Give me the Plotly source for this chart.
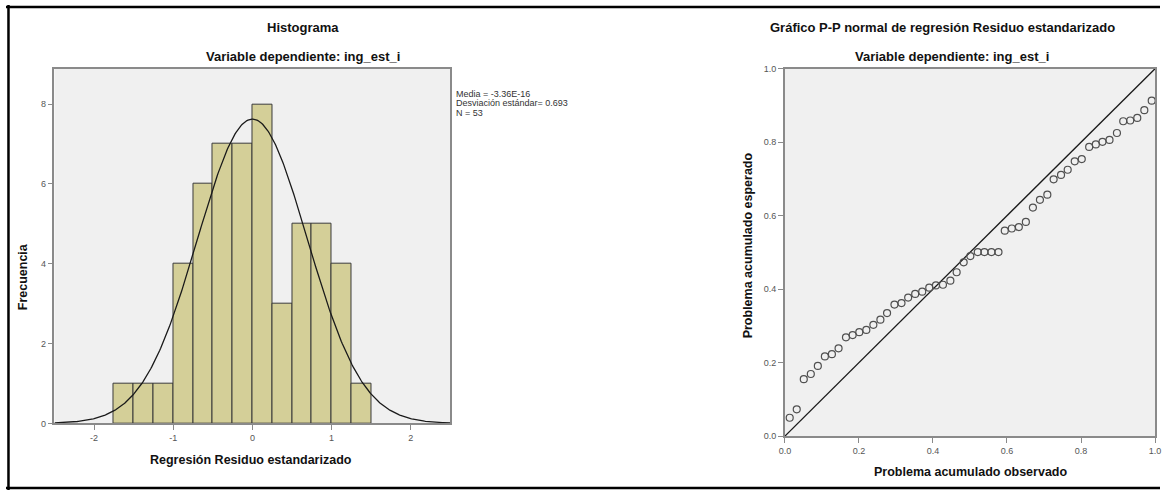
import numpy as np
import plotly.graph_objects as go

W, H = 1166, 495

# ---------------- data ----------------
bin_edges = [-1.75, -1.5, -1.25, -1.0, -0.75, -0.5, -0.25, 0.0, 0.25, 0.5, 0.75, 1.0, 1.25, 1.5]
counts = [1, 1, 1, 4, 6, 7, 7, 8, 3, 5, 5, 4, 1]
stat_mean = -3.36e-16
stat_sd = 0.693
stat_n = 53

pp_observed = [0.013, 0.032, 0.051, 0.070, 0.089, 0.108, 0.127, 0.145, 0.165, 0.183,
               0.201, 0.220, 0.239, 0.258, 0.276, 0.296, 0.315, 0.333, 0.352, 0.371,
               0.390, 0.408, 0.427, 0.447, 0.464, 0.483, 0.501, 0.521, 0.539, 0.558,
               0.577, 0.594, 0.613, 0.632, 0.651, 0.670, 0.689, 0.709, 0.726, 0.746,
               0.764, 0.783, 0.802, 0.822, 0.840, 0.858, 0.877, 0.897, 0.914, 0.933,
               0.952, 0.971, 0.991]
pp_expected = [0.050, 0.073, 0.155, 0.169, 0.191, 0.217, 0.223, 0.239, 0.269, 0.275,
               0.283, 0.289, 0.303, 0.317, 0.335, 0.358, 0.362, 0.377, 0.387, 0.393,
               0.404, 0.410, 0.412, 0.423, 0.446, 0.473, 0.490, 0.501, 0.501, 0.501,
               0.501, 0.559, 0.565, 0.569, 0.583, 0.622, 0.643, 0.657, 0.699, 0.711,
               0.725, 0.748, 0.754, 0.787, 0.794, 0.801, 0.806, 0.825, 0.857, 0.859,
               0.866, 0.887, 0.913]

hist_xticks = [-2, -1, 0, 1, 2]
hist_xticktext = ["-2", "-1", "0", "1", "2"]
hist_yticks = [0, 2, 4, 6, 8]
pp_ticks = [0.0, 0.2, 0.4, 0.6, 0.8, 1.0]

# ---------------- helpers ----------------
def px(x):
    return x / W

def py(y):
    return 1 - y / H

FONT = "Liberation Sans, Arial, sans-serif"
AXIS_GRAY = "#8a8a8a"
TICK_FONT = dict(family=FONT, size=9, color="#555555")

centers = [(a + b) / 2 for a, b in zip(bin_edges[:-1], bin_edges[1:])]
bw = bin_edges[1] - bin_edges[0]

xs = np.linspace(-2.5, 2.5, 400)
curve = stat_n * bw * np.exp(-0.5 * ((xs - stat_mean) / stat_sd) ** 2) / (stat_sd * np.sqrt(2 * np.pi))

fig = go.Figure()

fig.add_trace(go.Bar(
    x=centers, y=counts, width=bw,
    marker=dict(color="rgb(212,207,152)", line=dict(color="#3a3a3a", width=1)),
    xaxis="x", yaxis="y", showlegend=False, hoverinfo="x+y",
))
fig.add_trace(go.Scatter(
    x=xs, y=curve, mode="lines", line=dict(color="#1a1a1a", width=1.3),
    xaxis="x", yaxis="y", showlegend=False, hoverinfo="skip",
))

fig.add_trace(go.Scatter(
    x=[0, 1], y=[0, 1], mode="lines", line=dict(color="#1a1a1a", width=1.3),
    xaxis="x2", yaxis="y2", showlegend=False, hoverinfo="skip",
))
fig.add_trace(go.Scatter(
    x=pp_observed, y=pp_expected, mode="markers",
    marker=dict(symbol="circle-open", size=7, color="#505050", line=dict(width=1.2, color="#505050")),
    xaxis="x2", yaxis="y2", showlegend=False,
))

axis_common = dict(
    showline=True, linecolor=AXIS_GRAY, linewidth=1.5, mirror=True,
    ticks="outside", ticklen=5, tickcolor=AXIS_GRAY, tickwidth=1.2,
    showgrid=False, zeroline=False, tickfont=TICK_FONT,
)

fig.update_layout(
    width=W, height=H,
    margin=dict(l=0, r=0, t=0, b=0),
    paper_bgcolor="white",
    plot_bgcolor="#f0f0f0",
    bargap=0,
    xaxis=dict(domain=[px(49), px(449)], range=[-2.5, 2.5], tickvals=hist_xticks,
               ticktext=hist_xticktext, anchor="y", **axis_common),
    yaxis=dict(domain=[py(427), py(65)], range=[0, 8.89], tickvals=hist_yticks,
               anchor="x", **axis_common),
    xaxis2=dict(domain=[px(787), px(1161)], range=[0, 1], tickvals=pp_ticks,
                tickformat=".1f", anchor="y2", ticklabeloverflow="allow", **axis_common),
    yaxis2=dict(domain=[py(440), py(65)], range=[0, 1], tickvals=pp_ticks,
                tickformat=".1f", anchor="x2", **axis_common),
)

def label(text, x, y, size=13, bold=True, angle=0, xanchor="center", color="#111111"):
    fig.add_annotation(
        text=f"<b>{text}</b>" if bold else text,
        x=px(x), y=py(y), xref="paper", yref="paper",
        xanchor=xanchor, yanchor="middle", showarrow=False, textangle=angle,
        font=dict(family=FONT, size=size, color=color),
    )

label("Histograma", 300, 23)
label("Variable dependiente: ing_est_i", 300, 53)
label("Regresión Residuo estandarizado", 248, 464, size=12.5)
label("Frecuencia", 18, 277, size=12.5, angle=-90)

label("Gráfico P-P normal de regresión Residuo estandarizado", 946, 23)
label("Variable dependiente: ing_est_i", 956, 53)
label("Problema acumulado observado", 975, 477, size=12.5)
label("Problema acumulado esperado", 750, 245, size=12.5, angle=-90)

label(f"Media = {stat_mean:.2E}", 453, 91, size=9, bold=False, xanchor="left", color="#333333")
label(f"Desviación estándar= {stat_sd:.3f}", 453, 100.5, size=9, bold=False, xanchor="left", color="#333333")
label(f"N = {stat_n}", 453, 110, size=9, bold=False, xanchor="left", color="#333333")

# outer frame
for x0, y0, x1, y1 in [(0, 2, W, 2), (2.5, 0, 2.5, H), (0, 493, W, 493)]:
    fig.add_shape(type="line", xref="paper", yref="paper",
                  x0=px(x0), y0=py(y0), x1=px(x1), y1=py(y1),
                  line=dict(color="black", width=2.5))

fig.write_html(
    "out.html",
    config={"displayModeBar": False},
    post_script=(
        "document.body.style.margin='0';document.body.style.padding='0';"
        "document.documentElement.style.overflow='hidden';"
        "var gd=document.getElementById('{plot_id}');"
        "gd.style.position='fixed';gd.style.left='0px';gd.style.top='0px';"
    ),
)
